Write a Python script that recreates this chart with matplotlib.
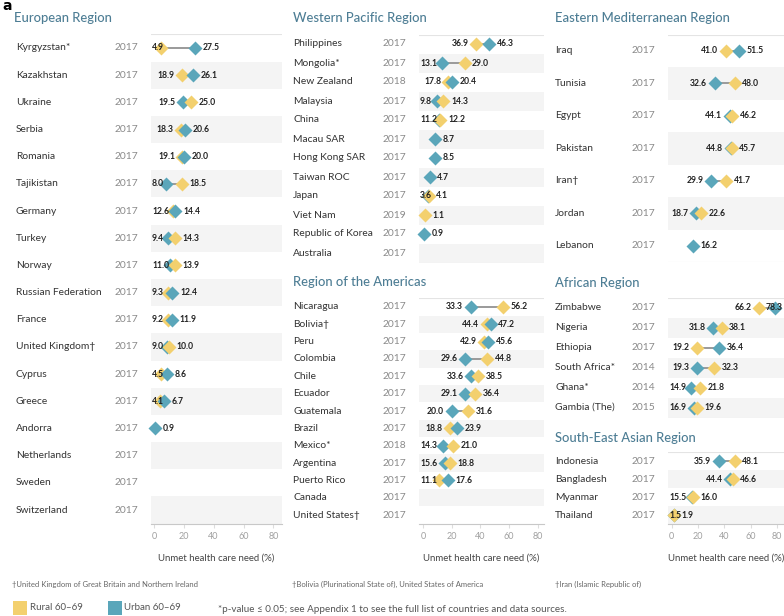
import numpy as np
import matplotlib
matplotlib.use("Agg")
import matplotlib.pyplot as plt
from matplotlib.transforms import blended_transform_factory
from matplotlib.patches import Rectangle

plt.rcParams['font.family'] = ['Lato', 'DejaVu Sans']

NA = np.nan

# ---------------- data ----------------
eur_names = ["Kyrgyzstan*", "Kazakhstan", "Ukraine", "Serbia", "Romania", "Tajikistan",
             "Germany", "Turkey", "Norway", "Russian Federation", "France", "United Kingdom\u2020",
             "Cyprus", "Greece", "Andorra", "Netherlands", "Sweden", "Switzerland"]
eur_years = ["2017"] * 18
eur_rural = [4.9, 18.9, 25.0, 18.3, 19.1, 18.5, 12.6, 14.3, 13.9, 9.3, 9.2, 10.0, 4.5, 4.1, NA, NA, NA, NA]
eur_urban = [27.5, 26.1, 19.5, 20.6, 20.0, 8.0, 14.4, 9.4, 11.0, 12.4, 11.9, 9.0, 8.6, 6.7, 0.9, NA, NA, NA]

wp_names = ["Philippines", "Mongolia*", "New Zealand", "Malaysia", "China", "Macau SAR",
            "Hong Kong SAR", "Taiwan ROC", "Japan", "Viet Nam", "Republic of Korea", "Australia"]
wp_years = ["2017", "2017", "2018", "2017", "2017", "2017", "2017", "2017", "2017", "2019", "2017", "2017"]
wp_rural = [36.9, 29.0, 17.8, 14.3, 12.2, NA, NA, NA, 4.1, 1.1, NA, NA]
wp_urban = [46.3, 13.1, 20.4, 9.8, 11.2, 8.7, 8.5, 4.7, 3.6, NA, 0.9, NA]

am_names = ["Nicaragua", "Bolivia\u2020", "Peru", "Colombia", "Chile", "Ecuador", "Guatemala",
            "Brazil", "Mexico*", "Argentina", "Puerto Rico", "Canada", "United States\u2020"]
am_years = ["2017"] * 8 + ["2018"] + ["2017"] * 4
am_rural = [56.2, 44.4, 42.9, 44.8, 38.5, 36.4, 31.6, 18.8, 21.0, 18.8, 11.1, NA, NA]
am_urban = [33.3, 47.2, 45.6, 29.6, 33.6, 29.1, 20.0, 23.9, 14.3, 15.6, 17.6, NA, NA]

em_names = ["Iraq", "Tunisia", "Egypt", "Pakistan", "Iran\u2020", "Jordan", "Lebanon"]
em_years = ["2017"] * 7
em_rural = [41.0, 48.0, 46.2, 45.7, 41.7, 22.6, NA]
em_urban = [51.5, 32.6, 44.1, 44.8, 29.9, 18.7, 16.2]

af_names = ["Zimbabwe", "Nigeria", "Ethiopia", "South Africa*", "Ghana*", "Gambia (The)"]
af_years = ["2017", "2017", "2017", "2014", "2014", "2015"]
af_rural = [66.2, 38.1, 19.2, 32.3, 21.8, 19.6]
af_urban = [78.3, 31.8, 36.4, 19.3, 14.9, 16.9]

sea_names = ["Indonesia", "Bangladesh", "Myanmar", "Thailand"]
sea_years = ["2017"] * 4
sea_rural = [48.1, 46.6, 16.0, 1.9]
sea_urban = [35.9, 44.4, 15.5, 1.5]

xticks = [0, 20, 40, 60, 80]

# ---------------- style ----------------
W, H = 784, 616
RURAL = "#f3d06e"
URBAN = "#5aa6ba"
TITLE_C = "#4d7d94"
NAME_C = "#333333"
YEAR_C = "#8a8a8a"
SHADE = "#f4f4f4"

fig = plt.figure(figsize=(W / 100, H / 100), dpi=100)
renderer = fig.canvas.get_renderer()


def fx(px):
    return px / W


def fy(py):
    return 1 - py / H


def panel(title, title_pos, names, years, rural, urban, rect, xlim, name_x, year_x, axis=False):
    l, t, r, b = rect
    ax = fig.add_axes([fx(l), fy(b), fx(r - l), (b - t) / H])
    n = len(names)
    ax.set_xlim(*xlim)
    ax.set_ylim(n - 0.5, -0.5)
    ax.set_facecolor("none")
    for s in ax.spines.values():
        s.set_visible(False)
    ax.set_yticks([])
    for i in range(n):
        if i % 2 == 1:
            ax.axhspan(i - 0.5, i + 0.5, color=SHADE, lw=0, zorder=0)
    ax.axhline(-0.5, color="#e4e4e4", lw=0.8, zorder=1)
    if axis:
        ax.spines["bottom"].set_visible(True)
        ax.spines["bottom"].set_color("#c8c8c8")
        ax.spines["bottom"].set_linewidth(0.8)
        ax.set_xticks(xticks)
        ax.set_xticklabels([str(v) for v in xticks])
        ax.tick_params(axis="x", length=3, color="#dddddd", labelsize=6.5,
                       labelcolor="#a0a0a0", pad=3)
        ax.set_xlabel("Unmet health care need (%)", fontsize=6.9, color="#444444", labelpad=9)
    else:
        ax.set_xticks([])
        ax.axhline(n - 0.5, color="#e4e4e4", lw=0.8, zorder=1)

    tr = blended_transform_factory(fig.transFigure, ax.transData)
    fig.text(fx(title_pos[0]), fy(title_pos[1]), title, fontsize=9.4, color=TITLE_C,
             va="center", ha="left", fontweight="medium")
    pxu = (r - l) / (xlim[1] - xlim[0])
    off = 7.5 / pxu
    for i in range(n):
        ax.text(fx(name_x), i, names[i], transform=tr, fontsize=7.4, color=NAME_C,
                va="center", ha="left")
        ax.text(fx(year_x), i, years[i], transform=tr, fontsize=7.4, color=YEAR_C,
                va="center", ha="left")
        ru, ur = rural[i], urban[i]
        vals = [(v, c) for v, c in ((ru, RURAL), (ur, URBAN)) if not np.isnan(v)]
        if not vals:
            continue
        if len(vals) == 2:
            ax.plot([ru, ur], [i, i], color="#9a9a9a", lw=1.4, zorder=2, solid_capstyle="butt")
        # higher value on top
        for v, c in sorted(vals, key=lambda p: p[0]):
            ax.plot([v], [i], marker="D", ms=7.4, color=c, mec="none", zorder=3, clip_on=False)
        txtkw = dict(fontsize=6.2, fontweight="bold", color="#222222", va="center", zorder=5)
        hi = max(v for v, _ in vals)
        th = ax.text(hi + off, i, f"{hi:.1f}", ha="left", **txtkw)
        bb = th.get_window_extent(renderer=renderer)
        right_px = fx(r) * W
        if bb.x1 > right_px - 1:
            th.set_ha("right")
            th.set_x(xlim[1] - 1 / pxu)
        if len(vals) == 2:
            lo = min(v for v, _ in vals)
            tl = ax.text(lo - off, i, f"{lo:.1f}", ha="right", **txtkw)
            bb = tl.get_window_extent(renderer=renderer)
            if bb.x0 < l + 1:
                tl.set_ha("left")
                tl.set_x(xlim[0] + 1 / pxu)
    return ax


panel("European Region", (14, 18), eur_names, eur_years, eur_rural, eur_urban,
      (151, 34.4, 282, 523.6), (-2.0, 85.8), 16, 115, axis=True)
panel("Western Pacific Region", (293, 18), wp_names, wp_years, wp_rural, wp_urban,
      (419, 34.5, 544, 262.5), (-2.8, 84.5), 293, 383)
panel("Region of the Americas", (293, 282), am_names, am_years, am_rural, am_urban,
      (419, 298.3, 544, 523.7), (-2.8, 84.5), 293, 383, axis=True)
panel("Eastern Mediterranean Region", (555, 18), em_names, em_years, em_rural, em_urban,
      (668, 34.75, 784, 262), (-2.8, 85.5), 555, 632)
panel("African Region", (555, 283), af_names, af_years, af_rural, af_urban,
      (668, 298, 784, 417.5), (-2.8, 85.5), 555, 632)
panel("South-East Asian Region", (555, 438), sea_names, sea_years, sea_rural, sea_urban,
      (668, 452, 784, 524), (-2.8, 85.5), 555, 632, axis=True)

fig.text(fx(2), fy(6), "a", fontsize=10, fontweight="bold", color="black", va="center",
         family=["DejaVu Sans"])

foot_kw = dict(fontsize=5.5, color="#666666", va="center", ha="left")
fig.text(fx(12), fy(584), "\u2020United Kingdom of Great Britain and Northern Ireland", **foot_kw)
fig.text(fx(292), fy(584), "\u2020Bolivia (Plurinational State of), United States of America", **foot_kw)
fig.text(fx(555), fy(584), "\u2020Iran (Islamic Republic of)", **foot_kw)

fig.patches.append(Rectangle((fx(13), fy(615)), 14 / W, 14 / H, transform=fig.transFigure,
                             color=RURAL, lw=0))
fig.text(fx(30), fy(608), "Rural 60\u201369", fontsize=7, color="#555555", va="center")
fig.patches.append(Rectangle((fx(108), fy(615)), 14 / W, 14 / H, transform=fig.transFigure,
                             color=URBAN, lw=0))
fig.text(fx(124), fy(608), "Urban 60\u201369", fontsize=7, color="#555555", va="center")
fig.text(fx(218), fy(609), "*p-value \u2264 0.05; see Appendix 1 to see the full list of countries and data sources.",
         fontsize=7.1, color="#555555", va="center")

fig.savefig("out.png", dpi=100)
